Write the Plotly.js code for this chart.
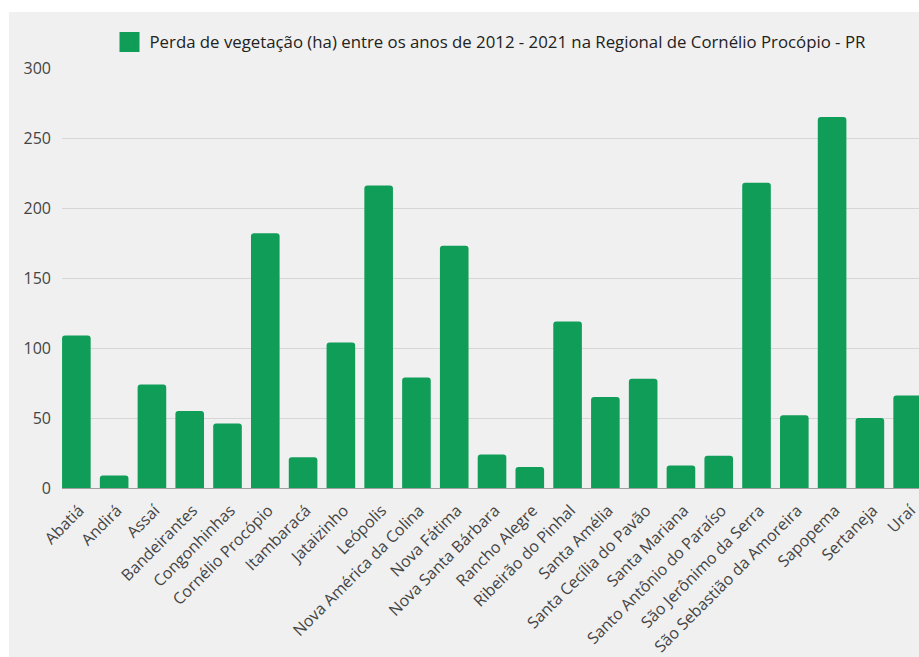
<!DOCTYPE html>
<html>
<head>
<meta charset="utf-8">
<script src="https://cdn.plot.ly/plotly-3.0.1.min.js"></script>
<style>
  html, body { margin: 0; padding: 0; background: #ffffff; width: 919px; height: 657px; overflow: hidden; }
  #chart { position: absolute; left: 9px; top: 12px; width: 910px; height: 645px; }
</style>
</head>
<body>
<div id="chart"></div>
<script>
const municipios = [
  "Abatiá", "Andirá", "Assaí", "Bandeirantes", "Congonhinhas", "Cornélio Procópio",
  "Itambaracá", "Jataizinho", "Leópolis", "Nova América da Colina", "Nova Fátima",
  "Nova Santa Bárbara", "Rancho Alegre", "Ribeirão do Pinhal", "Santa Amélia",
  "Santa Cecília do Pavão", "Santa Mariana", "Santo Antônio do Paraíso",
  "São Jerônimo da Serra", "São Sebastião da Amoreira", "Sapopema", "Sertaneja", "Uraí"
];
const perdaHa = [109, 9, 74, 55, 46, 182, 22, 104, 216, 79, 173, 24, 15, 119, 65, 78, 16, 23, 218, 52, 265, 50, 66];
const yTicks = [0, 50, 100, 150, 200, 250, 300];
const serieNome = "Perda de vegetação (ha) entre os anos de 2012 - 2021 na Regional de Cornélio Procópio - PR";

const verde = "#0f9d58";

const traces = [
  {
    type: "bar",
    x: municipios,
    y: perdaHa,
    name: serieNome,
    showlegend: false,
    marker: { color: verde, cornerradius: 3 },
    hoverinfo: "x+y"
  },
  {
    type: "scatter",
    mode: "markers",
    x: [municipios[0]],
    y: [null],
    name: serieNome,
    showlegend: true,
    marker: { symbol: "square", size: 16, color: verde, line: { color: verde, width: 4 } },
    hoverinfo: "skip"
  }
];

const layout = {
  width: 910,
  height: 645,
  paper_bgcolor: "#f0f0f0",
  plot_bgcolor: "#f0f0f0",
  margin: { l: 53, r: 0, t: 56, b: 169, pad: 0 },
  font: { family: "Open Sans, sans-serif", size: 16, color: "#444444" },
  bargap: 0.243,
  showlegend: true,
  legend: {
    orientation: "h",
    x: 0.5, xanchor: "center",
    y: 1.062, yanchor: "middle",
    bgcolor: "rgba(0,0,0,0)",
    font: { family: "Open Sans, sans-serif", size: 16.8, color: "#222222" },
    itemclick: false
  },
  xaxis: {
    type: "category",
    categoryorder: "array",
    categoryarray: municipios,
    range: [-0.38, 22.30],
    tickangle: -45,
    showgrid: false,
    zeroline: false,
    showline: false,
    ticks: "",
    ticklabelstandoff: 9,
    ticklabelshift: 3,
    tickfont: { family: "Open Sans, sans-serif", size: 16, color: "#444444" },
    fixedrange: true
  },
  yaxis: {
    range: [0, 300],
    tickvals: yTicks,
    ticktext: yTicks.map(String),
    showgrid: true,
    gridcolor: "#d6d6d6",
    gridwidth: 1,
    zeroline: true,
    zerolinecolor: "#9e9e9e",
    zerolinewidth: 1,
    showline: false,
    ticks: "",
    ticklabelstandoff: 10,
    tickfont: { family: "Open Sans, sans-serif", size: 16, color: "#444444" },
    fixedrange: true
  }
};

Plotly.newPlot("chart", traces, layout, { displayModeBar: false, staticPlot: true });
</script>
</body>
</html>
